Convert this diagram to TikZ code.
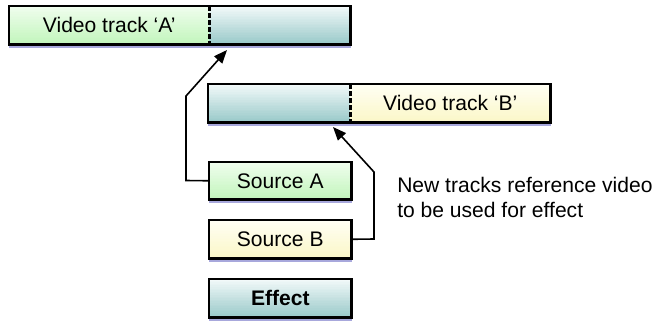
\documentclass[tikz,border=0pt]{standalone}
\usepackage{fontspec}
\setmainfont{Liberation Sans}
\usetikzlibrary{arrows.meta,calc,backgrounds}
\definecolor{grntop}{HTML}{F0FEEE}
\definecolor{grnbot}{HTML}{C2F5BC}
\definecolor{tealtop}{HTML}{F2F9F9}
\definecolor{tealbot}{HTML}{9ACACA}
\definecolor{yeltop}{HTML}{FFFFF4}
\definecolor{yelbot}{HTML}{FBF7C8}
\definecolor{shadowc}{HTML}{A8A8DC}
\newcommand{\mygradfill}[3]{%
  \foreach \i in {0,...,23}{%
    \pgfmathsetmacro\pp{100-\i*100/23}%
    \fill[#2!\pp!#3] ($(#1.north west)!\i/24!(#1.south west)$) rectangle ($(#1.north east)!{(\i+1.4)/24}!(#1.south east)$);
  }%
}
\tikzset{
  part/.style={anchor=north west,inner sep=0pt,minimum height=28.5pt},
  boxline/.style={draw=black,line width=1.6pt},
  divider/.style={draw=black,line width=1.6pt,dash pattern=on 3.5pt off 1.8pt},
  shad/.style={draw=shadowc,line width=1.6pt},
  conn/.style={draw=black,line width=1.2pt,-{Triangle[length=10pt,width=8pt]}}
}
\begin{document}
\begin{tikzpicture}[x=0.75pt,y=-0.75pt,
  every node/.style={font=\fontsize{15.8pt}{18.75pt}\selectfont}]
\useasboundingbox (0,0) rectangle (655,322);
% Track A
\node[part,minimum width=150pt] (a1) at (9,6) {Video track ‘A’};
\node[part,minimum width=105.75pt] (a2) at (209,6) {};
% Track B
\node[part,minimum width=106.5pt] (b1) at (208,84) {};
\node[part,minimum width=150pt] (b2) at (350,84) {Video track ‘B’};
% Sources
\node[part,minimum width=106.5pt,minimum height=27.75pt] (sa) at (209,162) {Source A};
\node[part,minimum width=106.5pt,minimum height=28.5pt] (sb) at (209,220) {Source B};
\node[part,minimum width=106.5pt,minimum height=28.5pt,font=\fontsize{15.8pt}{18.75pt}\selectfont\bfseries] (ef) at (209,279) {Effect};
\begin{scope}[on background layer]
  \mygradfill{a1}{grntop}{grnbot}
  \mygradfill{a2}{tealtop}{tealbot}
  \mygradfill{b1}{tealtop}{tealbot}
  \mygradfill{b2}{yeltop}{yelbot}
  \mygradfill{sa}{grntop}{grnbot}
  \mygradfill{sb}{yeltop}{yelbot}
  \mygradfill{ef}{tealtop}{tealbot}
  % shadows
  \path[shad] ([yshift=-1.6pt]a1.south west) -- ([yshift=-1.6pt]a2.south east);
  \path[shad] ([yshift=-1.6pt]b1.south west) -- ([yshift=-1.6pt]b2.south east);
  \path[shad] ([yshift=-1.6pt]sa.south west) -- ([yshift=-1.6pt]sa.south east);
  \path[shad] ([yshift=-1.6pt]sb.south west) -- ([yshift=-1.6pt]sb.south east);
  \path[shad] ([yshift=-1.6pt]ef.south west) -- ([yshift=-1.6pt]ef.south east);
\end{scope}
% outlines
\path[boxline] (a1.north west) rectangle (a2.south east);
\path[divider] (a1.north east) -- (a1.south east);
\path[boxline] (b1.north west) rectangle (b2.south east);
\path[divider] (b1.north east) -- (b1.south east);
\path[boxline] (sa.north west) rectangle (sa.south east);
\path[boxline] (sb.north west) rectangle (sb.south east);
\path[boxline] (ef.north west) rectangle (ef.south east);
% connectors
\coordinate (ta) at (227,50);
\coordinate (tb) at (333,127);
\path[conn] (sa.west) -- (186,180.5) -- (186,96) -- (ta);
\path[conn] (sb.east) -- (374,239) -- (374,172) -- (tb);
% note
\node[anchor=west,align=left,inner sep=0pt] (note) at (397,197.5) {New tracks reference video\\to be used for effect};
\end{tikzpicture}
\end{document}
